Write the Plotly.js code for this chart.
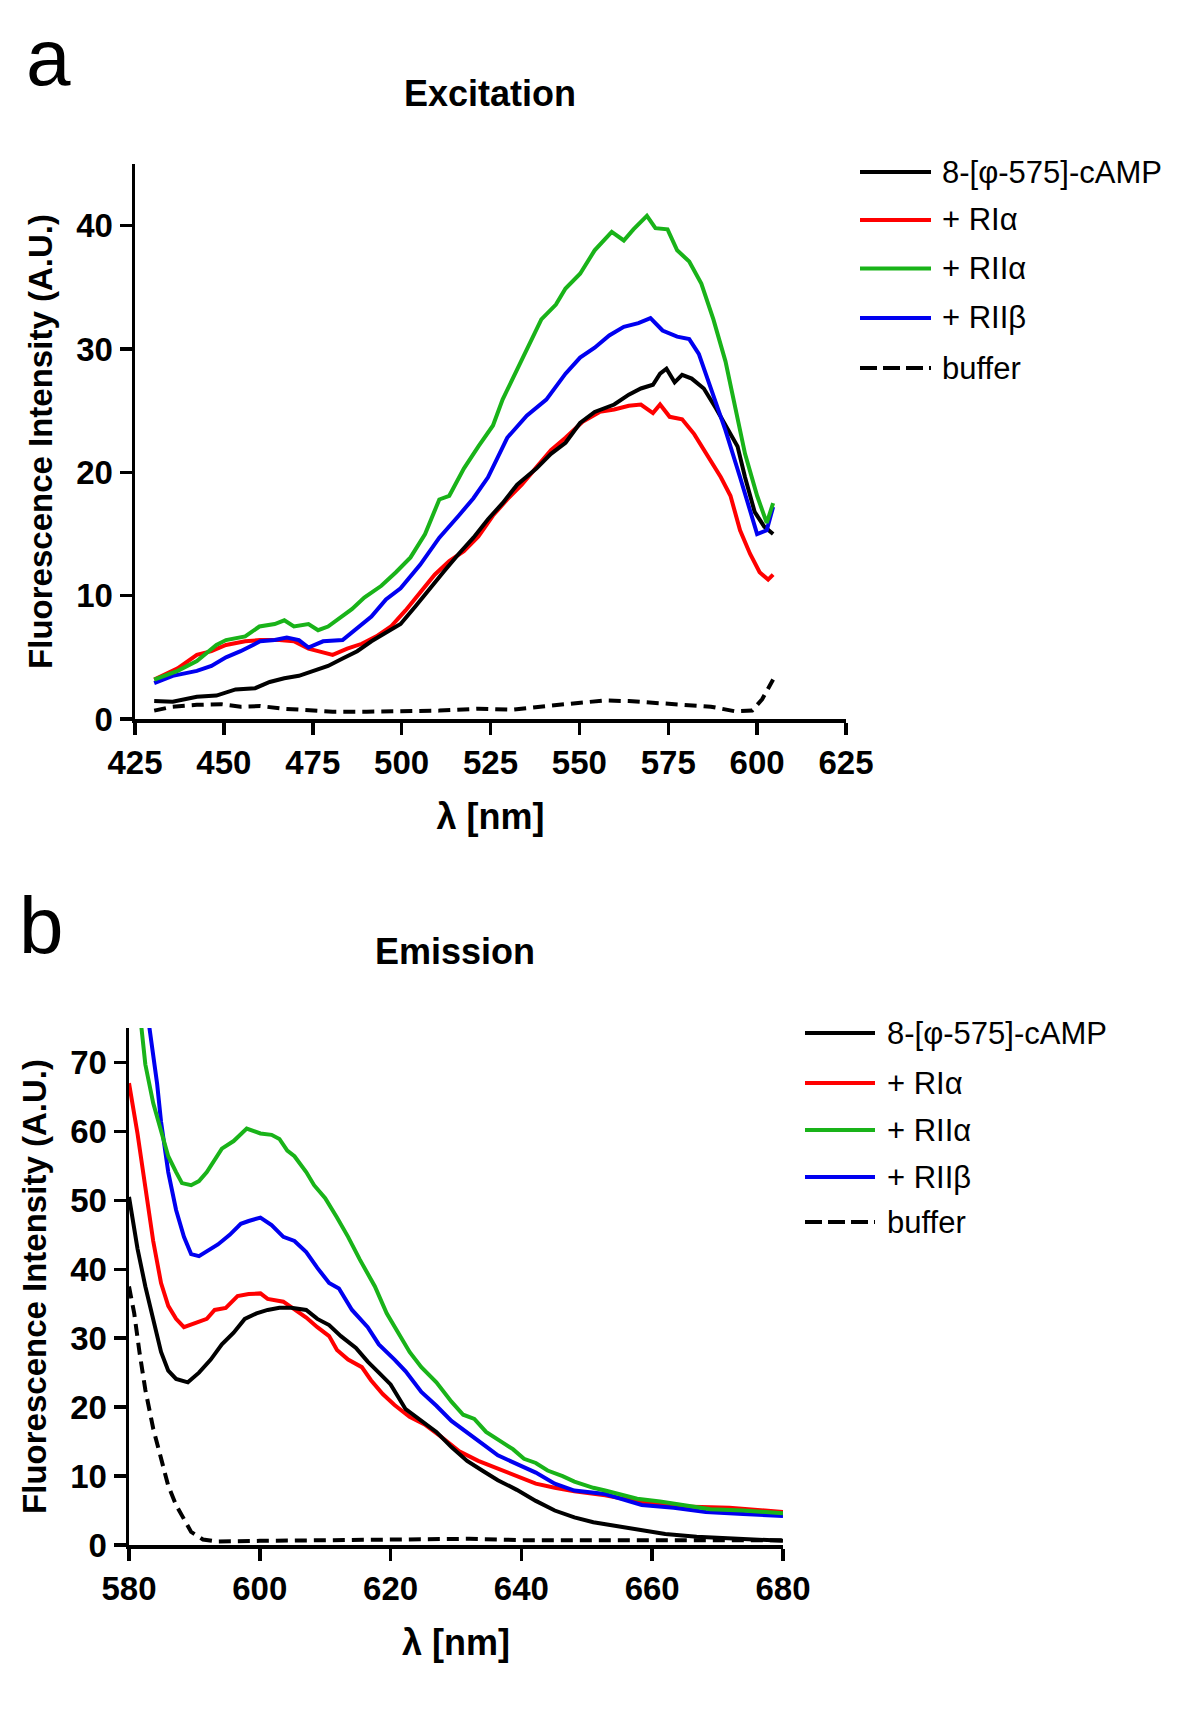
<!DOCTYPE html>
<html>
<head>
<meta charset="utf-8">
<script src="https://cdn.plot.ly/plotly-3.0.1.min.js"></script>
<style>
  html, body { margin: 0; padding: 0; background: #fff; }
  #chart { width: 1200px; height: 1718px; }
</style>
</head>
<body>
<div id="chart"></div>
<script>
// ---------------- DATA ----------------
const seriesNames = ['8-[φ-575]-cAMP', '+ RIα', '+ RIIα', '+ RIIβ', 'buffer'];

// Panel a: Excitation
const exWl_cAMP = [430.4,435.6,442.4,447.9,453.3,458.8,462.9,467,471.1,475.2,479.3,483.4,487.5,491.5,495.6,499.7,503.8,507.9,512,516.1,520.2,524.3,528.4,532.5,537.9,542,546.1,550.2,554.3,559.8,563.9,567.3,570.7,572.7,574.5,576.8,578.9,581.6,585,588.4,591.8,594.5,596.6,599.3,602,604.5];
const exI_cAMP  = [1.45,1.4,1.8,1.9,2.4,2.5,3.0,3.3,3.5,3.9,4.3,4.9,5.5,6.3,7.0,7.7,9.1,10.6,12.0,13.4,14.7,16.2,17.5,19.0,20.3,21.5,22.4,24.0,24.9,25.5,26.3,26.8,27.1,28.0,28.4,27.3,27.9,27.6,26.8,25.2,23.4,22.1,19.6,16.8,15.6,15.0];

const exWl_RIa = [430.4,437,442.4,446.5,450.6,456,460.2,465.6,469.7,473.8,476.5,480.6,484.7,488.8,492.9,497,501.1,505.2,509.3,513.4,517.5,521.6,525.7,529.7,533.8,537.9,542,546.1,550.9,555.7,559.8,563.9,567.3,570.7,572.7,575.4,578.9,582.3,586.4,589.8,592.5,595.2,598,600.7,603.1,604.5];
const exI_RIa  = [3.2,4.1,5.2,5.5,6.0,6.3,6.4,6.4,6.3,5.7,5.5,5.2,5.7,6.1,6.7,7.5,8.8,10.3,11.7,12.8,13.6,14.8,16.5,17.8,19.0,20.4,21.8,22.8,24.1,24.9,25.1,25.4,25.5,24.8,25.5,24.5,24.3,23.1,21.2,19.6,18.1,15.3,13.4,11.9,11.3,11.7];

const exWl_RIIa = [430.4,437,442.4,447.9,450.6,456,460,464.3,467,469.7,473.8,476.5,479.3,482,486,489.5,494.3,498.4,502.5,506.6,510.6,513.4,517.5,521.6,525.7,528.4,532.5,535.2,539.3,543.4,546.1,550.2,554.3,559.1,562.5,565.2,569,571.4,574.8,577.5,580.9,584.3,587.7,591.1,593.9,596.6,600,602.7,604.5];
const exI_RIIa  = [3.2,3.9,4.7,6.0,6.4,6.7,7.5,7.7,8.0,7.5,7.7,7.2,7.5,8.1,8.9,9.85,10.8,11.9,13.1,15.0,17.8,18.1,20.3,22.1,23.8,25.9,28.3,29.9,32.4,33.6,34.9,36.1,38.0,39.5,38.8,39.7,40.8,39.8,39.7,38.0,37.1,35.3,32.4,29.0,25.2,21.5,18.1,15.9,17.5];

const exWl_RIIb = [430.4,435.6,442.4,446.5,450.6,454.7,460.2,464.3,467.7,471.1,473.8,477.9,483.4,487.5,491.5,495.6,499.7,505.2,510.6,516.1,520.2,524.3,529.7,535.2,540.7,546.1,550.2,554.3,558.4,562.5,566.6,570,573.4,577.5,580.9,583.6,587,591.1,595.2,600,602.7,604.5];
const exI_RIIb  = [2.9,3.5,3.9,4.3,5.0,5.5,6.3,6.4,6.6,6.4,5.8,6.3,6.4,7.4,8.3,9.7,10.6,12.5,14.7,16.5,17.9,19.6,22.8,24.6,25.9,28.0,29.3,30.1,31.1,31.8,32.1,32.5,31.5,31.0,30.8,29.6,26.8,23.4,19.6,15.0,15.3,17.2];

const exWl_buffer = [430.4,435.6,442.4,449.3,454.7,460.2,467,473.8,480.6,490.2,499.7,510.6,521.6,531.1,540.7,548.8,557,563.9,570.7,578.9,587,593.9,598.6,601.4,604.5];
const exI_buffer  = [0.68,1.0,1.15,1.2,1.0,1.05,0.83,0.68,0.59,0.59,0.62,0.68,0.83,0.75,1.05,1.24,1.5,1.45,1.3,1.15,1.0,0.62,0.68,1.6,3.2];

// Panel b: Emission
const emWl_cAMP = [580,581.3,582.5,583.7,584.9,586,587.2,589,590.7,592.5,594.2,596,597.7,599.5,601.2,603,604.8,607.1,608.8,610.6,612.4,614.7,616.5,618.2,620,622.3,624.7,627,629.3,631.7,634,636.4,639.3,642.2,645.1,648.1,651,653,657.7,662,666.8,671.8,676.7,680];
const emI_cAMP  = [50.5,43.0,37.5,32.5,28.0,25.3,24.1,23.6,25.0,26.9,29.1,30.8,32.8,33.6,34.1,34.4,34.4,34.1,32.8,31.9,30.3,28.6,26.6,25.0,23.3,19.7,18.0,16.4,14.2,12.2,10.8,9.4,8.0,6.4,5.0,4.0,3.3,3.0,2.2,1.6,1.2,0.94,0.8,0.6];

const emWl_RIa = [580,581.3,582.5,583.7,584.9,586,587.2,588.4,590.1,591.9,593.1,594.8,596.6,598.3,600.1,601.2,603.6,605.3,607.1,608.8,610.6,611.8,613.5,615.6,617,618.8,620.6,622.9,625.2,627.6,630.5,633.4,636.4,639.3,642.2,645.1,648.1,652.8,658.4,664.7,671.8,680];
const emI_RIa  = [67.0,59.7,51.9,44.1,38.0,34.7,32.8,31.6,32.2,32.8,34.1,34.4,36.1,36.4,36.5,35.7,35.3,34.1,33.0,31.6,30.3,28.3,26.9,25.8,23.9,21.9,20.3,18.6,17.5,15.8,13.6,12.2,11.1,10.0,8.9,8.3,7.8,7.2,6.2,5.6,5.4,4.8];

const emWl_RIIa = [580,581,581.9,582.5,583.7,584.9,586,587.2,588.1,589.5,590.7,591.9,593.1,594.2,596,598,600.1,601.8,603,604.2,605.3,607.1,608.3,610,611.8,613.5,615.3,617.6,619.4,621.1,622.9,624.7,627,629.3,631.1,632.8,634.6,636.9,638.7,640.4,642.2,644,646.3,648.1,651,652.8,657.7,661.2,664.7,668.9,673.9,680];
const emI_RIIa  = [92,83,75.2,69.7,64.1,60.2,56.4,54.1,52.5,52.2,52.8,54.1,55.8,57.5,58.6,60.4,59.7,59.5,58.9,57.2,56.4,54.1,52.2,50.3,47.5,44.7,41.4,37.5,33.6,30.8,28.0,25.8,23.6,20.8,18.9,18.3,16.4,15.0,13.9,12.5,11.9,10.8,10.0,9.2,8.3,7.9,6.7,6.3,5.8,5.2,5.0,4.6];

const emWl_RIIb = [580,582,583.1,584.3,584.9,586,587.2,588.4,589.5,590.7,592.2,593.6,595.4,597.1,598.3,600.1,601.8,603.6,605.3,607.1,608.8,610.6,612.1,614.1,616.5,618.2,620.6,622.3,624.7,627,629.3,631.7,634,636.4,639.3,642.2,645.1,648.1,652.8,658.4,663.3,668.2,673.9,680];
const emI_RIIb  = [110,88,75.2,66.9,61.4,54.1,48.6,44.7,42.2,41.9,42.8,43.6,45.0,46.6,47.0,47.5,46.4,44.7,44.1,42.5,40.2,38.0,37.2,34.1,31.6,29.1,26.9,25.2,22.2,20.2,18.0,16.4,14.7,13.0,11.7,10.5,8.9,7.9,7.4,5.8,5.4,4.8,4.5,4.2];

const emWl_buffer = [580,580.8,581.6,582.5,583.7,584.9,586,587.2,588.4,589.5,591.3,593.6,600,610,620,632,640,650,660,670,680];
const emI_buffer  = [37.5,33.6,28.0,22.5,16.9,12.5,8.6,5.8,3.6,1.9,0.8,0.5,0.6,0.65,0.7,0.9,0.7,0.7,0.6,0.6,0.7];

// Tick labels
const exTicksX = [425,450,475,500,525,550,575,600,625];
const exTicksY = [0,10,20,30,40];
const emTicksX = [580,600,620,640,660,680];
const emTicksY = [0,10,20,30,40,50,60,70];

// ---------------- STYLE ----------------
const W = 1200, H = 1718;
const FONT = 'Liberation Sans, Arial, Helvetica, sans-serif';
const colors = ['#000000', '#ff0000', '#19b319', '#0000f0', '#000000'];
const dashes = ['solid', 'solid', 'solid', 'solid', '12px,7px'];
const LW = 4;
const px2x = p => p / W;
const px2y = p => 1 - p / H;

const exX = [exWl_cAMP, exWl_RIa, exWl_RIIa, exWl_RIIb, exWl_buffer];
const exY = [exI_cAMP, exI_RIa, exI_RIIa, exI_RIIb, exI_buffer];
const emX = [emWl_cAMP, emWl_RIa, emWl_RIIa, emWl_RIIb, emWl_buffer];
const emY = [emI_cAMP, emI_RIa, emI_RIIa, emI_RIIb, emI_buffer];

const drawOrder = [4, 1, 0, 3, 2];
const traces = [];
drawOrder.forEach(i => {
  traces.push({x: exX[i], y: exY[i], xaxis: 'x', yaxis: 'y', type: 'scatter', mode: 'lines',
    name: seriesNames[i], showlegend: false, line: {color: colors[i], width: LW, dash: dashes[i]}});
});
drawOrder.forEach(i => {
  traces.push({x: emX[i], y: emY[i], xaxis: 'x2', yaxis: 'y2', type: 'scatter', mode: 'lines',
    name: seriesNames[i], showlegend: false, line: {color: colors[i], width: LW, dash: dashes[i]}});
});

const tickFont = {family: FONT, size: 33, color: '#000', weight: 'bold'};
const titleFont = {family: FONT, size: 36, color: '#000', weight: 'bold'};
const yTitleFont = {family: FONT, size: 33, color: '#000', weight: 'bold'};
function axisStyle(extra) {
  return Object.assign({
    showline: true, linecolor: '#000', linewidth: 3.5,
    ticks: 'outside', ticklen: 12, tickwidth: 3.5, tickcolor: '#000',
    showgrid: false, zeroline: false, fixedrange: true,
    tickfont: tickFont, tickmode: 'array'
  }, extra);
}

const layout = {
  width: W, height: H,
  margin: {l: 0, r: 0, t: 0, b: 0},
  paper_bgcolor: '#fff', plot_bgcolor: '#fff',
  showlegend: false,
  xaxis: axisStyle({domain: [px2x(135), px2x(846)], range: [425, 625], tickvals: exTicksX, anchor: 'y',
    title: {text: 'λ [nm]', font: titleFont, standoff: 24}}),
  yaxis: axisStyle({domain: [px2y(719), px2y(164)], range: [0, 45], tickvals: exTicksY, anchor: 'x',
    title: {text: 'Fluorescence Intensity (A.U.)', font: yTitleFont, standoff: 14}}),
  xaxis2: axisStyle({domain: [px2x(129), px2x(783)], range: [580, 680], tickvals: emTicksX, anchor: 'y2',
    title: {text: 'λ [nm]', font: titleFont, standoff: 24}}),
  yaxis2: axisStyle({domain: [px2y(1545), px2y(1028)], range: [0, 75], tickvals: emTicksY, anchor: 'x2',
    title: {text: 'Fluorescence Intensity (A.U.)', font: yTitleFont, standoff: 14}}),
  annotations: [],
  shapes: []
};

// panel letters and titles
layout.annotations.push({text: 'a', xref: 'paper', yref: 'paper', x: px2x(48), y: px2y(57), xanchor: 'center', yanchor: 'middle', showarrow: false, font: {family: FONT, size: 80, color: '#000'}});
layout.annotations.push({text: 'b', xref: 'paper', yref: 'paper', x: px2x(41), y: px2y(925), xanchor: 'center', yanchor: 'middle', showarrow: false, font: {family: FONT, size: 80, color: '#000'}});
layout.annotations.push({text: 'Excitation', xref: 'paper', yref: 'paper', x: px2x(490), y: px2y(94), xanchor: 'center', yanchor: 'middle', showarrow: false, font: titleFont});
layout.annotations.push({text: 'Emission', xref: 'paper', yref: 'paper', x: px2x(455), y: px2y(952), xanchor: 'center', yanchor: 'middle', showarrow: false, font: titleFont});

// custom legends (line samples + labels)
const legA = {x0: 860, x1: 931, tx: 940, rows: [172, 220, 268.5, 318, 368]};
const legB = {x0: 805, x1: 875, tx: 885, rows: [1033, 1083, 1130, 1177, 1222]};
[legA, legB].forEach(L => {
  seriesNames.forEach((name, i) => {
    const yy = px2y(L.rows[i]);
    layout.shapes.push({type: 'line', xref: 'paper', yref: 'paper', x0: px2x(L.x0), x1: px2x(L.x1), y0: yy, y1: yy,
      line: {color: colors[i], width: 4, dash: i === 4 ? '17px,6px' : 'solid'}});
    layout.annotations.push({text: name, xref: 'paper', yref: 'paper', x: px2x(L.tx), y: yy, xanchor: 'left', yanchor: 'middle',
      showarrow: false, font: {family: FONT, size: 31, color: '#000'}});
  });
});

Plotly.newPlot('chart', traces, layout, {displayModeBar: false, staticPlot: true});
</script>
</body>
</html>
